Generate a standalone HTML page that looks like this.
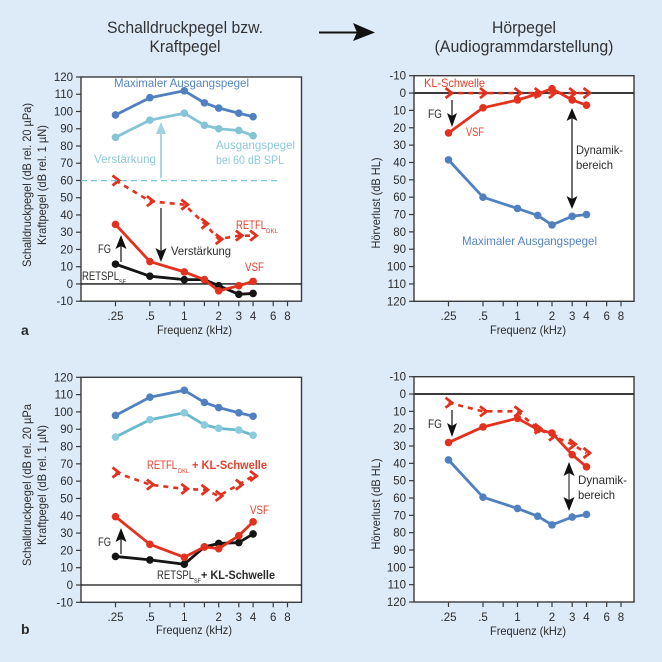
<!DOCTYPE html>
<html lang="de">
<head>
<meta charset="utf-8">
<title>Schalldruckpegel und Hörpegel</title>
<style>
html,body{margin:0;padding:0;background:#ddeaf8;}
svg{display:block;}
text{font-family:"Liberation Sans",sans-serif;font-size:12px;fill:#2b2b2b;}
.tick{font-size:11.5px;}
.red{fill:#e5402c;}
.blue{fill:#5484c2;}
.lb{fill:#8ccadb;}
.sub{font-size:6px;}
.title{font-size:16.5px;fill:#333;}
.bold{font-weight:bold;}
</style>
</head>
<body>
<svg id="chart" xmlns="http://www.w3.org/2000/svg" width="662" height="662" viewBox="0 0 662 662">
<rect x="0" y="0" width="662" height="662" fill="#ddeaf8"/>

<text class="title" x="185" y="33" text-anchor="middle" textLength="156">Schalldruckpegel bzw.</text>
<text class="title" x="185" y="52" text-anchor="middle" textLength="71">Kraftpegel</text>
<text class="title" x="524" y="33" text-anchor="middle" textLength="64">Hörpegel</text>
<text class="title" x="524" y="52" text-anchor="middle" textLength="179">(Audiogrammdarstellung)</text>
<g>
<line x1="319" y1="32.5" x2="358" y2="32.5" stroke="#111" stroke-width="2"/>
<path d="M353 23 L375 32.5 L353 41 L357 32.5 Z" fill="#111"/>
</g>

<g id="plots"></g>

<g id="annotations">
<!-- Panel a left -->
<text class="blue" x="114" y="87" textLength="135">Maximaler Ausgangspegel</text>
<text class="lb" x="94" y="163" textLength="62">Verstärkung</text>
<text class="lb" x="216" y="149" textLength="79">Ausgangspegel</text>
<text class="lb" x="216" y="164" textLength="68">bei 60 dB SPL</text>
<text class="red" x="236" y="229" textLength="30">RETFL</text>
<text class="red sub" x="266" y="233" textLength="12">DKL</text>
<text class="red" x="245" y="271" textLength="19">VSF</text>
<text x="171" y="255" textLength="60">Verstärkung</text>
<text x="98" y="253" textLength="13">FG</text>
<text x="82" y="280" textLength="37">RETSPL</text>
<text class="sub" x="119" y="284" textLength="7">SF</text>
<text x="194.500" y="334" text-anchor="middle" textLength="75">Frequenz (kHz)</text>
<text class="bold" x="21" y="335" style="font-size:14px">a</text>
<text transform="translate(31,185) rotate(-90)" text-anchor="middle" textLength="164">Schalldruckpegel (dB rel. 20 µPa)</text>
<text transform="translate(46,185) rotate(-90)" text-anchor="middle" textLength="120">Kraftpegel (dB rel. 1 µN)</text>
<line x1="81" y1="180.600" x2="278" y2="180.600" stroke="#7cc6da" stroke-width="1.200" stroke-dasharray="6 4"/>
<g><line x1="161" y1="178" x2="161" y2="130" stroke="#a9d7e4" stroke-width="2"/><path d="M161 122 L166 134 L156 134 Z" fill="#a0d2e0"/></g>
<g><line x1="161" y1="208" x2="161" y2="254" stroke="#444" stroke-width="1.500"/><path d="M161 262 L155.500 248 L161 251 L166.500 248 Z" fill="#111"/></g>
<g><line x1="121" y1="262" x2="121" y2="242" stroke="#222" stroke-width="1.300"/><path d="M121 235 L126.500 249 L121 246 L115.500 249 Z" fill="#111"/></g>

<!-- Panel a right -->
<text class="red" x="424" y="87" textLength="61">KL-Schwelle</text>
<text x="428" y="118" textLength="14">FG</text>
<text class="red" x="466" y="136" textLength="18">VSF</text>
<text x="576" y="154" textLength="47">Dynamik-</text>
<text x="576" y="169" textLength="37">bereich</text>
<text class="blue" x="462" y="245" textLength="135">Maximaler Ausgangspegel</text>
<text x="528" y="334" text-anchor="middle" textLength="76">Frequenz (kHz)</text>
<text transform="translate(380,203) rotate(-90)" text-anchor="middle" textLength="91">Hörverlust (dB HL)</text>
<g><line x1="452" y1="100" x2="452" y2="120" stroke="#222" stroke-width="1.300"/><path d="M452 127 L447 113 L452 116 L457 113 Z" fill="#111"/></g>
<g><line x1="572" y1="114" x2="572" y2="203" stroke="#222" stroke-width="1.300"/><path d="M572 108 L577.500 121 L572 118 L566.500 121 Z" fill="#111"/><path d="M572 209 L566.500 196 L572 199 L577.500 196 Z" fill="#111"/></g>

<!-- Panel b left -->
<text class="red" x="147" y="469" textLength="30">RETFL</text>
<text class="red sub" x="178" y="473" textLength="11">DKL</text>
<text class="red bold" x="192" y="469" textLength="75">+ KL-Schwelle</text>
<text class="red" x="250" y="514" textLength="19">VSF</text>
<text x="98" y="546" textLength="13">FG</text>
<text x="157" y="579" textLength="37">RETSPL</text>
<text class="sub" x="194" y="583" textLength="7">SF</text>
<text class="bold" x="201" y="579" textLength="74">+ KL-Schwelle</text>
<text x="194" y="634" text-anchor="middle" textLength="76">Frequenz (kHz)</text>
<text class="bold" x="21" y="634" style="font-size:14px">b</text>
<text transform="translate(31,485) rotate(-90)" text-anchor="middle" textLength="162">Schalldruckpegel (dB rel. 20 µPa</text>
<text transform="translate(46,485) rotate(-90)" text-anchor="middle" textLength="120">Kraftpegel (dB rel. 1 µN)</text>
<g><line x1="121" y1="554" x2="121" y2="535" stroke="#222" stroke-width="1.300"/><path d="M121 528 L126.500 542 L121 539 L115.500 542 Z" fill="#111"/></g>

<!-- Panel b right -->
<text x="428" y="428" textLength="14">FG</text>
<text x="578" y="484" textLength="49">Dynamik-</text>
<text x="578" y="499" textLength="37">bereich</text>
<text x="528" y="635" text-anchor="middle" textLength="76">Frequenz (kHz)</text>
<text transform="translate(380,504) rotate(-90)" text-anchor="middle" textLength="91">Hörverlust (dB HL)</text>
<g><line x1="452" y1="410" x2="452" y2="430" stroke="#222" stroke-width="1.300"/><path d="M452 437 L447 423 L452 426 L457 423 Z" fill="#111"/></g>
<g><line x1="569" y1="468" x2="569" y2="505" stroke="#444" stroke-width="1.300"/><path d="M569 462 L574.500 476 L569 473 L563.500 476 Z" fill="#111"/><path d="M569 511 L563.500 497 L569 500 L574.500 497 Z" fill="#111"/></g>
</g>
</svg>

<script>
var frequencies = [0.25, 0.5, 1, 1.5, 2, 3, 4];
var xTickValues = [0.25, 0.5, 0.75, 1, 1.5, 2, 3, 4, 6, 8];
var xTickLabels = ['.25', '.5', '', '1', '', '2', '3', '4', '6', '8'];
var yTicksLevel = [120, 110, 100, 90, 80, 70, 60, 50, 40, 30, 20, 10, 0, -10];
var yTicksLoss = [-10, 0, 10, 20, 30, 40, 50, 60, 70, 80, 90, 100, 110, 120];

var aLeftMax = [98, 108, 112, 105, 102, 99, 97];
var aLeft60 = [85, 95, 99, 92, 90, 89, 86];
var aLeftRetfl = [60, 48, 46, 35, 26, 28, 28];
var aLeftRetspl = [11.5, 4.5, 2.5, 2.5, -1, -6, -5.5];
var aLeftVsf = [34.5, 13, 7, 2.5, -4, -1, 1.5];

var aRightKl = [0, 0, 0, 0, 0, 0, 0];
var aRightVsf = [23, 8.5, 4, 0.5, -2.5, 4, 7];
var aRightMax = [38.5, 60, 66.5, 70.5, 76, 71, 70];

var bLeftMax = [98, 108.5, 112.5, 105.5, 102.5, 99.5, 97.5];
var bLeft60 = [85.5, 95.5, 99.5, 92.5, 90.5, 89.5, 86.5];
var bLeftRetfl = [65, 58, 55.5, 55, 51.5, 58, 63];
var bLeftRetspl = [16.5, 14.5, 12, 22, 24, 24.5, 29.5];
var bLeftVsf = [39.5, 23.5, 16, 22, 21, 28.5, 36.5];

var bRightKl = [5, 10, 10, 20, 24, 29, 34];
var bRightVsf = [28, 19, 14, 20.5, 22.5, 35, 42];
var bRightMax = [38, 59.5, 66, 70.5, 75.5, 71, 69.5];

var NS = 'http://www.w3.org/2000/svg';
var plots = document.getElementById('plots');
var COLORS = { blue: '#5080bf', light: '#7cc0d3', red: '#e2321f', black: '#151515' };

document.querySelectorAll('text[textLength]').forEach(function (t) {
  t.setAttribute('lengthAdjust', 'spacingAndGlyphs');
});

function make(tag, parent, attrs) {
  var el = document.createElementNS(NS, tag);
  for (var k in attrs) el.setAttribute(k, attrs[k]);
  parent.appendChild(el);
  return el;
}

function createPanel(id, left, right, top, bottom, x1k, octave, ticks, inverted, labelY, zeroWidth) {
  var p = {};
  p.x = function (f) { return x1k + octave * Math.log2(f); };
  p.y = function (v) {
    var t = inverted ? (v + 10) / 130 : (120 - v) / 130;
    return top + t * (bottom - top);
  };
  var g = make('g', plots, {});
  
  
  p.g = g;

  var frame = make('rect', g, { x: left, y: top, width: right - left, height: bottom - top, fill: '#fff', stroke: '#3a3a3a', 'stroke-width': 1.4 });
  
  

  ticks.forEach(function (v) {
    var yy = p.y(v);
    var tick = make('line', g, { x1: left - 5, x2: left, y1: yy, y2: yy, stroke: '#3a3a3a', 'stroke-width': 1.2 });
    
    
    var label = make('text', g, { x: left - 8, y: yy + 4, 'text-anchor': 'end', 'class': 'tick' });
    
    
    label.textContent = v;
  });

  xTickValues.forEach(function (f, i) {
    var xx = p.x(f);
    var tick = make('line', g, { x1: xx, x2: xx, y1: bottom, y2: bottom + 5, stroke: '#3a3a3a', 'stroke-width': 1.2 });
    
    
    if (xTickLabels[i]) {
      var label = make('text', g, { x: xx, y: labelY, 'text-anchor': 'middle', 'class': 'tick' });
      
      
      label.textContent = xTickLabels[i];
    }
  });

  var zero = make('line', g, { x1: left, x2: right, y1: p.y(0), y2: p.y(0), stroke: zeroWidth > 1.6 ? '#3a3a3a' : '#111', 'stroke-width': zeroWidth });
  
  
  return p;
}

function solidSeries(p, values, color, name, dotColor) {
  var g = make('g', p.g, {});
  
  
  var pts = values.map(function (v, i) { return p.x(frequencies[i]) + ',' + p.y(v); }).join(' ');
  make('polyline', g, { points: pts, fill: 'none', stroke: color, 'stroke-width': 2.8, 'stroke-linejoin': 'round' });
  values.forEach(function (v, i) {
    var dot = make('circle', g, { cx: p.x(frequencies[i]), cy: p.y(v), r: 3.8, fill: dotColor || color });
    
    
  });
}

function dashedSeries(p, values, color, name) {
  var g = make('g', p.g, {});
  
  
  var pts = values.map(function (v, i) { return p.x(frequencies[i]) + ',' + p.y(v); }).join(' ');
  make('polyline', g, { points: pts, fill: 'none', stroke: color, 'stroke-width': 2.6, 'stroke-dasharray': '5 5' });
  values.forEach(function (v, i) {
    var cx = p.x(frequencies[i]), cy = p.y(v);
    var d = 'M' + (cx - 3) + ' ' + (cy - 5) + ' L' + (cx + 3.5) + ' ' + cy + ' L' + (cx - 3) + ' ' + (cy + 5);
    var mark = make('path', g, { d: d, fill: 'none', stroke: color, 'stroke-width': 2.8 });
    
    
  });
}

var panelAL = createPanel('a-left', 81, 301.5, 77, 301.2, 184.3, 34.4, yTicksLevel, false, 320, 1.3);
solidSeries(panelAL, aLeftMax, COLORS.blue, 'series-max-output-a-left');
solidSeries(panelAL, aLeft60, '#84c4d6', 'series-output-60db-a-left');
dashedSeries(panelAL, aLeftRetfl, COLORS.red, 'series-retfl-a-left');
solidSeries(panelAL, aLeftRetspl, COLORS.black, 'series-retspl-a-left');
solidSeries(panelAL, aLeftVsf, COLORS.red, 'series-vsf-a-left');

var panelAR = createPanel('a-right', 414, 634, 75.7, 301.3, 517.5, 34.5, yTicksLoss, true, 320, 2);
dashedSeries(panelAR, aRightKl, COLORS.red, 'series-kl-threshold-a-right');
solidSeries(panelAR, aRightVsf, COLORS.red, 'series-vsf-a-right');
solidSeries(panelAR, aRightMax, COLORS.blue, 'series-max-output-a-right');

var panelBL = createPanel('b-left', 81, 301.5, 377.3, 602.3, 184.3, 34.4, yTicksLevel, false, 621, 1.3);
solidSeries(panelBL, bLeftMax, COLORS.blue, 'series-max-output-b-left');
solidSeries(panelBL, bLeft60, '#68b9cd', 'series-output-60db-b-left', '#8ccbdb');
dashedSeries(panelBL, bLeftRetfl, COLORS.red, 'series-retfl-b-left');
solidSeries(panelBL, bLeftRetspl, COLORS.black, 'series-retspl-b-left');
solidSeries(panelBL, bLeftVsf, COLORS.red, 'series-vsf-b-left');

var panelBR = createPanel('b-right', 414, 634, 376.7, 602, 517.5, 34.5, yTicksLoss, true, 621, 2);
dashedSeries(panelBR, bRightKl, COLORS.red, 'series-kl-threshold-b-right');
solidSeries(panelBR, bRightVsf, COLORS.red, 'series-vsf-b-right');
solidSeries(panelBR, bRightMax, COLORS.blue, 'series-max-output-b-right');
</script>
</body>
</html>
